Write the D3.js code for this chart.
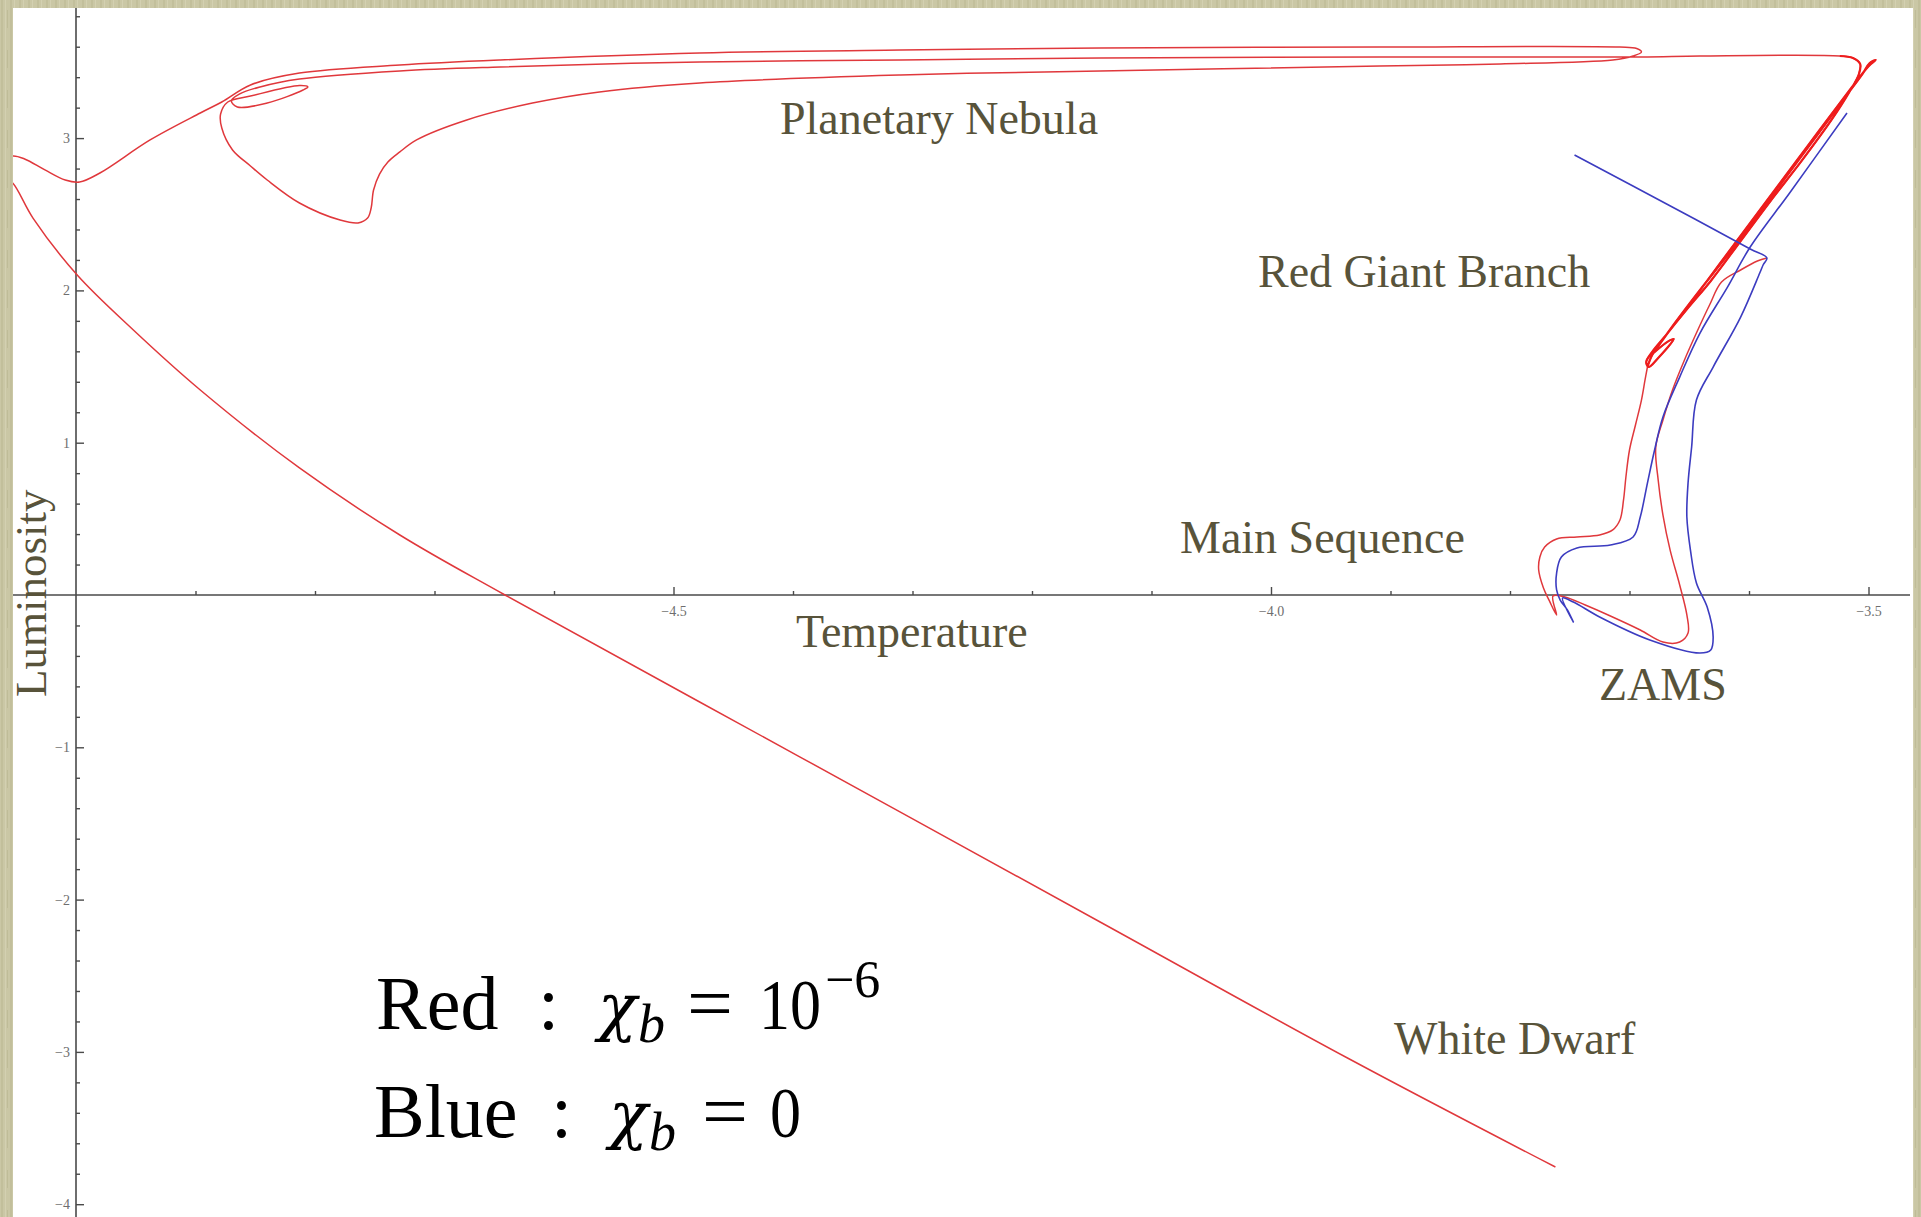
<!DOCTYPE html>
<html>
<head>
<meta charset="utf-8">
<script src="https://cdn.jsdelivr.net/npm/d3@7"></script>
<style>
  html, body { margin: 0; padding: 0; background: #c9c6a4; }
  svg { display: block; }
</style>
</head>
<body>
<svg id="chart" width="1921" height="1217"></svg>
<script>
// Evolutionary tracks in the HR plane: [log-temperature axis value, log-luminosity]

// ---- red track (chi_b = 1e-6) ----
const redPreMainSeq = [
  [-3.585, 2.213], [-3.593, 2.193], [-3.607, 2.134], [-3.623, 2.055], [-3.633, 1.904],
  [-3.644, 1.720], [-3.654, 1.543], [-3.664, 1.346], [-3.672, 1.149], [-3.678, 0.972],
  [-3.676, 0.755], [-3.672, 0.525], [-3.666, 0.295], [-3.658, 0.066], [-3.652, -0.131],
  [-3.651, -0.250], [-3.658, -0.309], [-3.672, -0.309], [-3.691, -0.230], [-3.716, -0.138],
  [-3.737, -0.066], [-3.754, -0.013], [-3.764, -0.007], [-3.761, -0.131]
];
const redMainSeq = [
  [-3.767, -0.039], [-3.772, 0.046], [-3.776, 0.164], [-3.775, 0.250], [-3.771, 0.315],
  [-3.761, 0.368], [-3.744, 0.381], [-3.725, 0.394], [-3.714, 0.427], [-3.708, 0.492],
  [-3.705, 0.624], [-3.703, 0.775], [-3.700, 0.952], [-3.695, 1.116], [-3.690, 1.280],
  [-3.687, 1.412], [-3.685, 1.497]
];
const redGiantBranch = [
  [-3.685, 1.497], [-3.681, 1.576], [-3.674, 1.655], [-3.662, 1.786], [-3.641, 2.003],
  [-3.616, 2.252], [-3.591, 2.515], [-3.566, 2.777], [-3.541, 3.040], [-3.520, 3.263],
  [-3.505, 3.421], [-3.499, 3.493], [-3.494, 3.513], [-3.498, 3.487], [-3.502, 3.454],
  [-3.524, 3.230], [-3.549, 2.968], [-3.574, 2.705], [-3.599, 2.443], [-3.624, 2.180],
  [-3.649, 1.917], [-3.668, 1.720], [-3.681, 1.596], [-3.686, 1.530], [-3.684, 1.497],
  [-3.676, 1.556], [-3.663, 1.681], [-3.668, 1.664], [-3.680, 1.589], [-3.683, 1.569],
  [-3.672, 1.681], [-3.651, 1.885], [-3.632, 2.062], [-3.607, 2.324], [-3.582, 2.587],
  [-3.556, 2.850], [-3.531, 3.119], [-3.516, 3.303], [-3.508, 3.421], [-3.507, 3.487],
  [-3.513, 3.526], [-3.524, 3.539]
];
const redThermalPulses = [
  [-3.641, 3.539], [-3.691, 3.533], [-3.909, 3.533], [-4.143, 3.526], [-4.310, 3.513],
  [-4.478, 3.500], [-4.645, 3.467], [-4.729, 3.441], [-4.813, 3.388], [-4.846, 3.336],
  [-4.863, 3.290], [-4.870, 3.244], [-4.865, 3.204], [-4.840, 3.230], [-4.810, 3.316],
  [-4.806, 3.336], [-4.813, 3.345], [-4.854, 3.276], [-4.873, 3.237], [-4.879, 3.158],
  [-4.878, 3.066], [-4.869, 2.922], [-4.854, 2.817], [-4.840, 2.725], [-4.813, 2.574],
  [-4.779, 2.462], [-4.764, 2.443], [-4.756, 2.475], [-4.753, 2.541], [-4.751, 2.659],
  [-4.746, 2.764], [-4.739, 2.843], [-4.729, 2.909], [-4.715, 2.988], [-4.673, 3.119],
  [-4.618, 3.230], [-4.562, 3.303], [-4.478, 3.362], [-4.310, 3.414], [-4.143, 3.441],
  [-3.909, 3.473], [-3.808, 3.487], [-3.714, 3.513], [-3.697, 3.539], [-3.690, 3.565],
  [-3.694, 3.588], [-3.708, 3.598], [-3.909, 3.598], [-4.143, 3.592], [-4.310, 3.578],
  [-4.478, 3.559], [-4.645, 3.513], [-4.729, 3.480], [-4.813, 3.427], [-4.854, 3.349],
  [-4.878, 3.237]
];
const redPlanetaryNebula = [
  [-4.896, 3.165], [-4.938, 2.988], [-4.980, 2.771], [-4.997, 2.712],
  [-5.009, 2.725], [-5.026, 2.791], [-5.043, 2.863], [-5.053, 2.882], [-5.061, 2.849],
  [-5.064, 2.791], [-5.059, 2.731]
];
const redWhiteDwarf = [
  [-5.053, 2.705], [-5.036, 2.475], [-4.999, 2.101], [-4.952, 1.740], [-4.896, 1.346],
  [-4.813, 0.834], [-4.729, 0.394], [-4.641, 0.000], [-4.394, -1.064], [-4.143, -2.147],
  [-3.936, -3.040], [-3.762, -3.756]
];

// ---- blue track (chi_b = 0) ----
const bluePreMainSeq = [
  [-3.746, 2.889], [-3.665, 2.551], [-3.599, 2.272], [-3.585, 2.213], [-3.588, 2.170],
  [-3.591, 2.114], [-3.607, 1.825], [-3.630, 1.497],
  [-3.644, 1.280], [-3.648, 0.972], [-3.651, 0.735], [-3.652, 0.512], [-3.649, 0.295],
  [-3.644, 0.079], [-3.635, -0.079], [-3.630, -0.276], [-3.632, -0.361], [-3.641, -0.381],
  [-3.683, -0.295], [-3.725, -0.144], [-3.747, -0.046], [-3.756, -0.020], [-3.747, -0.177]
];
const blueMainSeq = [
  [-3.752, -0.098], [-3.758, -0.033], [-3.761, 0.033], [-3.761, 0.144], [-3.757, 0.250],
  [-3.744, 0.309], [-3.716, 0.328], [-3.697, 0.381], [-3.691, 0.512], [-3.685, 0.735],
  [-3.679, 0.952], [-3.672, 1.169], [-3.658, 1.431], [-3.641, 1.720], [-3.618, 2.022],
  [-3.599, 2.285], [-3.566, 2.640], [-3.518, 3.165]
];

// ---- axes ----
const xMajor = [-4.5, -4.0, -3.5];
const xMajorLabels = ["\u22124.5", "\u22124.0", "\u22123.5"];
const yMajor = [-4, -3, -2, -1, 1, 2, 3];
const yMajorLabels = ["\u22124", "\u22123", "\u22122", "\u22121", "1", "2", "3"];

// ---- annotations ----
const regionLabels = ["Planetary Nebula", "Red Giant Branch", "Main Sequence", "Temperature", "ZAMS", "White Dwarf"];
const yTitle = "Luminosity";

const svg = d3.select("#chart");
const W = 1921, H = 1217;
const panel = { x0: 13, y0: 8, x1: 1913, y1: 1217 };

const x = d3.scaleLinear().domain([-5, -3.5]).range([76, 1868.5]);
const y = d3.scaleLinear().domain([0, 3]).range([595, 138.1]);

// textured beige frame
const defs = svg.append("defs");
const pat = defs.append("pattern").attr("id", "linen")
  .attr("patternUnits", "userSpaceOnUse").attr("width", 9).attr("height", 40);
pat.append("rect").attr("width", 9).attr("height", 40).attr("fill", "#cac7a5");
pat.append("rect").attr("x", 1).attr("width", 2).attr("height", 40).attr("fill", "#c2bf9b");
pat.append("rect").attr("x", 5).attr("width", 1).attr("height", 40).attr("fill", "#d3d0b1");
pat.append("rect").attr("x", 7).attr("y", 10).attr("width", 1).attr("height", 18).attr("fill", "#bfbc98");
svg.append("rect").attr("width", W).attr("height", H).attr("fill", "url(#linen)");

defs.append("clipPath").attr("id", "plotClip").append("rect")
  .attr("x", panel.x0).attr("y", panel.y0)
  .attr("width", panel.x1 - panel.x0).attr("height", panel.y1 - panel.y0);

svg.append("rect")
  .attr("x", panel.x0).attr("y", panel.y0)
  .attr("width", panel.x1 - panel.x0).attr("height", panel.y1 - panel.y0)
  .attr("fill", "#ffffff");

// ---- axis lines and ticks ----
const axisG = svg.append("g").attr("class", "axes");
const axisColor = "#4a4a4a";

const xMinor = d3.range(-49, -34).map(i => i / 10).filter(v => !xMajor.some(m => Math.abs(m - v) < 1e-9));
const yMinor = d3.range(-20, 20).map(i => i / 5).filter(v => Math.abs(v - Math.round(v)) > 1e-9);

const xAxisMinor = d3.axisBottom(x).tickValues(xMinor).tickSizeInner(-4).tickSizeOuter(0).tickFormat("");
const xAxisMajor = d3.axisBottom(x).tickValues(xMajor).tickSizeInner(-8).tickSizeOuter(0)
  .tickPadding(11).tickFormat((d, i) => xMajorLabels[i]);
const yAxisMinor = d3.axisLeft(y).tickValues(yMinor).tickSizeInner(-4).tickSizeOuter(0).tickFormat("");
const yAxisMajor = d3.axisLeft(y).tickValues(yMajor).tickSizeInner(-8).tickSizeOuter(0)
  .tickPadding(6).tickFormat((d, i) => yMajorLabels[i]);

function styleAxis(g) {
  g.select(".domain").remove();
  g.selectAll(".tick line").attr("stroke", axisColor).attr("stroke-width", 1.4);
  g.selectAll(".tick text")
    .attr("fill", "#6e6e6e")
    .style("font-family", "'Liberation Serif', 'DejaVu Serif', serif")
    .style("font-size", "14px");
}

axisG.append("g").attr("transform", `translate(0,${y(0)})`).call(xAxisMinor).call(styleAxis);
axisG.append("g").attr("transform", `translate(0,${y(0)})`).call(xAxisMajor).call(styleAxis);
axisG.append("g").attr("transform", `translate(${x(-5)},0)`).call(yAxisMinor).call(styleAxis);
axisG.append("g").attr("transform", `translate(${x(-5)},0)`).call(yAxisMajor).call(styleAxis);

axisG.append("line")
  .attr("x1", panel.x0).attr("x2", 1910).attr("y1", y(0)).attr("y2", y(0))
  .attr("stroke", axisColor).attr("stroke-width", 1.6);
axisG.append("line")
  .attr("x1", x(-5)).attr("x2", x(-5)).attr("y1", panel.y0).attr("y2", panel.y1)
  .attr("stroke", axisColor).attr("stroke-width", 1.6);

// ---- tracks ----
const line = d3.line()
  .x(d => x(d[0])).y(d => y(d[1]))
  .curve(d3.curveCatmullRom.alpha(0.5));

const tracks = svg.append("g").attr("clip-path", "url(#plotClip)");

const redTrack = [].concat(redPreMainSeq, redMainSeq, redGiantBranch,
  redThermalPulses, redPlanetaryNebula, redWhiteDwarf);
const blueTrack = [].concat(bluePreMainSeq, blueMainSeq);

tracks.append("path").datum(redTrack)
  .attr("d", line).attr("fill", "none")
  .attr("stroke", "#e0383c").attr("stroke-width", 1.5)
  .attr("stroke-linejoin", "round");

// the giant branch is crossed several times, so it reads as a heavier band
tracks.append("path").datum(redGiantBranch)
  .attr("d", line).attr("fill", "none")
  .attr("stroke", "#ee1c1c").attr("stroke-width", 2.2)
  .attr("stroke-linejoin", "round");

tracks.append("path").datum(blueTrack)
  .attr("d", line).attr("fill", "none")
  .attr("stroke", "#3c3cc0").attr("stroke-width", 1.6)
  .attr("stroke-linejoin", "round");

// ---- region labels ----
const labelFont = "'Liberation Serif', 'DejaVu Serif', serif";
const labelColor = "#58533a";
const labelPos = [
  [780, 134], [1258, 287], [1180, 553], [796, 647], [1599, 700], [1394, 1054]
];
svg.append("g").selectAll("text").data(regionLabels).join("text")
  .attr("x", (d, i) => labelPos[i][0]).attr("y", (d, i) => labelPos[i][1])
  .attr("fill", labelColor)
  .style("font-family", labelFont).style("font-size", "46px")
  .text(d => d);

svg.append("text")
  .attr("transform", "translate(46,697) rotate(-90)")
  .attr("fill", labelColor)
  .style("font-family", labelFont).style("font-size", "45px")
  .text(yTitle);

// ---- legend (chi_b values) ----
const legend = svg.append("g")
  .style("font-family", labelFont).attr("fill", "#000");

function legendRow(g, name, nameX, colonX, chiX, eqX, valX, baseY, value, expo) {
  g.append("text").attr("x", nameX).attr("y", baseY).style("font-size", "76px").text(name);
  g.append("text").attr("x", colonX).attr("y", baseY).style("font-size", "76px").text(":");
  g.append("text").attr("x", chiX).attr("y", baseY)
    .style("font-family", "'DejaVu Serif', serif").style("font-size", "64px")
    .style("font-style", "italic").text("\u03c7");
  g.append("text").attr("x", chiX + 40).attr("y", baseY + 13).style("font-size", "54px")
    .style("font-style", "italic").text("b");
  g.append("text").attr("x", eqX).attr("y", baseY).attr("textLength", 46)
    .attr("lengthAdjust", "spacingAndGlyphs").style("font-size", "76px").text("=");
  g.append("text").attr("x", valX).attr("y", baseY).attr("textLength", value.length * 31)
    .attr("lengthAdjust", "spacingAndGlyphs").style("font-size", "72px").text(value);
  if (expo) {
    g.append("text").attr("x", valX + 66).attr("y", baseY - 32).style("font-size", "52px").text(expo);
  }
}
legendRow(legend, "Red", 376, 538, 598, 687, 759, 1029, "10", "\u22126");
legendRow(legend, "Blue", 374, 551, 609, 702, 770, 1137, "0", null);
</script>
</body>
</html>
